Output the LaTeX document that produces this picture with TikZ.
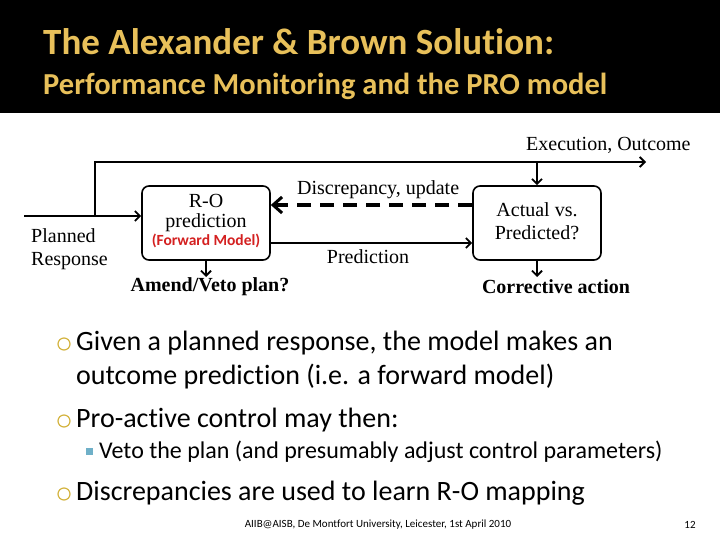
\documentclass[tikz,border=0pt]{standalone}
\usepackage{fontspec}
\setmainfont[Ligatures={NoCommon,NoContextual}]{Carlito}
\newfontfamily\tms{Liberation Serif}
\usetikzlibrary{arrows.meta}
\definecolor{gold}{HTML}{E8C05A}
\definecolor{bul}{HTML}{D4B440}
\definecolor{sq}{HTML}{6FB0C8}
\definecolor{fwd}{HTML}{D42020}
\begin{document}
\begin{tikzpicture}[x=1pt,y=-1pt,
  box/.style={draw=black,line width=1.6pt,rounded corners=7pt,fill=white,minimum width=128pt,minimum height=74pt,inner sep=0pt},
  dl/.style={font=\tms\fontsize{20}{23}\selectfont,inner sep=0pt},
  ln/.style={line width=2.2pt,-{Straight Barb[length=5pt,width=10pt,line width=1.8pt]}},
  txt/.style={anchor=west,inner sep=0pt,font=\fontsize{28}{32}\selectfont}]
\useasboundingbox (0,0) rectangle (720,540);
\fill[white] (0,0) rectangle (720,540);
\fill[black] (0,0) rectangle (720,113);
\node[anchor=west,text=gold,font=\bfseries\fontsize{37}{40}\selectfont,inner sep=0pt] (t1) at (43,42) {The Alexander \& Brown Solution:};
\node[anchor=west,text=gold,font=\bfseries\fontsize{30.5}{34}\selectfont,inner sep=0pt] (t2) at (43,86) {Performance Monitoring and the PRO model};
% diagram
\node[box] (ro) at (206,223) {};
\node[dl] (ro1) at (206,201) {R-O};
\node[dl] (ro2) at (206,223) {prediction};
\node[text=fwd,font=\bfseries\fontsize{15.5}{17}\selectfont,inner sep=0pt] (ro3) at (206,241) {(Forward Model)};
\node[box] (av) at (537,223) {};
\node[dl,align=center] (av1) at (537,221) {Actual vs.\\Predicted?};
\coordinate (in) at (24,216);
\coordinate (br) at (95,216);
\coordinate (tp) at (95,162);
\coordinate (te) at (646,162);
\coordinate (td) at (537,162);
\draw[line width=2.2pt] (in) -- (br);
\draw[ln] (br) -- (ro.west |- br);
\draw[ln] (br) -- (tp) -- (te);
\draw[ln] (td) -- (av.north);
\node[dl,anchor=west] (exe) at (526,145) {Execution, Outcome};
\node[dl,anchor=west,align=left] (pr) at (31,249) {Planned\\Response};
\draw[line width=3.5pt,dash pattern=on 14pt off 9pt] (av.west |- 0,205) -- (285,205);
\draw[line width=3.5pt,-{Straight Barb[length=9pt,width=16pt,line width=3pt]}] (285,205) -- (ro.east |- 0,205);
\node[dl,anchor=west] (dis) at (297,190) {Discrepancy, update};
\draw[ln] (ro.east |- 0,243) -- (av.west |- 0,243);
\node[dl] (pd) at (368,257) {Prediction};
\coordinate (a1) at (206,277);
\coordinate (a2) at (537,277);
\draw[ln] (ro.south) -- (a1);
\draw[ln] (av.south) -- (a2);
\node[dl,font=\tms\bfseries\fontsize{20}{23}\selectfont] (am) at (210,287) {Amend/Veto plan?};
\node[dl,font=\tms\bfseries\fontsize{20}{23}\selectfont] (ca) at (556,287) {Corrective action};
% bullets
\foreach \y in {344,421,494} \draw[bul,line width=1.2pt] (64,\y) circle (6pt);
\node[txt] (b1) at (76,343) {Given a planned response, the model makes an};
\node[txt] (b1b) at (76,377) {outcome prediction (i.e. a forward model)};
\node[txt] (b2) at (76,420) {Pro-active control may then:};
\fill[sq] (86,448) rectangle (93,455);
\node[txt,font=\fontsize{24}{27}\selectfont] (b3) at (99,452) {Veto the plan (and presumably adjust control parameters)};
\node[txt] (b4) at (76,493) {Discrepancies are used to learn R-O mapping};
\node[font=\fontsize{11}{13}\selectfont,inner sep=0pt] (ft) at (378,525) {AIIB@AISB, De Montfort University, Leicester, 1st April 2010};
\node[font=\fontsize{11}{13}\selectfont,inner sep=0pt] (pg) at (690,525) {12};
\end{tikzpicture}
\end{document}
